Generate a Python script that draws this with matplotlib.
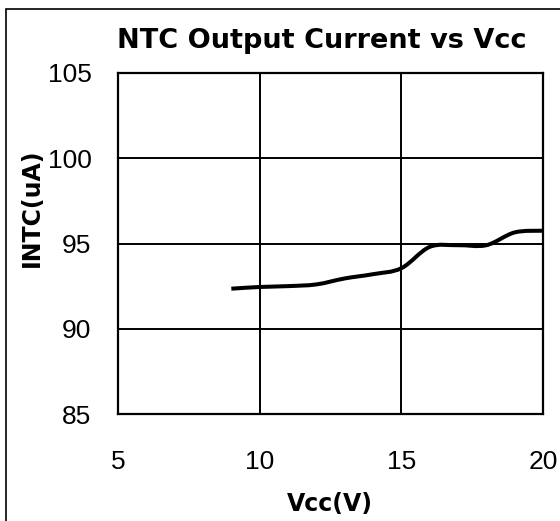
import matplotlib
matplotlib.use("Agg")
import matplotlib.pyplot as plt
from matplotlib.path import Path
from matplotlib.patches import PathPatch, Rectangle
import numpy as np

# datos
vcc = [9, 10, 11, 12, 13, 14, 15, 16, 17, 18, 19, 20]
intc = [92.35, 92.45, 92.5, 92.6, 92.95, 93.2, 93.55, 94.8, 94.9, 94.9, 95.65, 95.75]
x_ticks = [5, 10, 15, 20]
y_ticks = [85, 90, 95, 100, 105]

titulo = "NTC Output Current vs Vcc"
etiqueta_x = "Vcc(V)"
etiqueta_y = "INTC(uA)"

W, H = 560, 521
fig = plt.figure(figsize=(W / 100, H / 100), dpi=100)
ax = fig.add_axes([118 / W, 1 - 414 / H, 425 / W, 341 / H])

# curva suavizada (bezier tipo excel) a partir de los puntos
pts = np.column_stack([vcc, intc])
ext = np.vstack([pts[0], pts, pts[-1]])
verts = [tuple(pts[0])]
codes = [Path.MOVETO]
for i in range(len(pts) - 1):
    p0, p1, p2, p3 = ext[i], ext[i + 1], ext[i + 2], ext[i + 3]
    c1 = p1 + (p2 - p0) / 6
    c2 = p2 - (p3 - p1) / 6
    verts += [tuple(c1), tuple(c2), tuple(p2)]
    codes += [Path.CURVE4] * 3
curva = PathPatch(Path(verts, codes), fill=False, edgecolor="black", lw=2.9,
                  capstyle="butt", zorder=3)
ax.add_patch(curva)

ax.set_xlim(5, 20)
ax.set_ylim(85, 105)
ax.set_xticks(x_ticks)
ax.set_yticks(y_ticks)
ax.grid(True, color="black", lw=1.4)
for s in ax.spines.values():
    s.set_linewidth(1.6)
ax.tick_params(length=0, labelsize=19)
ax.tick_params(axis="y", pad=19)
ax.tick_params(axis="x", pad=26)
for lab in ax.get_xticklabels() + ax.get_yticklabels():
    lab.set_fontfamily("Liberation Sans")

fig.text(322 / W, 1 - 48 / H, titulo, ha="center", va="baseline",
         fontsize=19.5, fontweight="bold", family="DejaVu Sans")
fig.text(330 / W, 1 - 504 / H, etiqueta_x, ha="center", va="center",
         fontsize=17, fontweight="bold", family="DejaVu Sans")
fig.text(32 / W, 1 - 208 / H, etiqueta_y, ha="center", va="center", rotation=90,
         fontsize=17, fontweight="bold", family="DejaVu Sans")

# marco exterior recortado
fig.patches.append(Rectangle((6 / W, -0.2), 1.2, 1.2 - 9 / H, transform=fig.transFigure,
                             fill=False, edgecolor="black", lw=1.2))

fig.savefig("out.png", dpi=100)
